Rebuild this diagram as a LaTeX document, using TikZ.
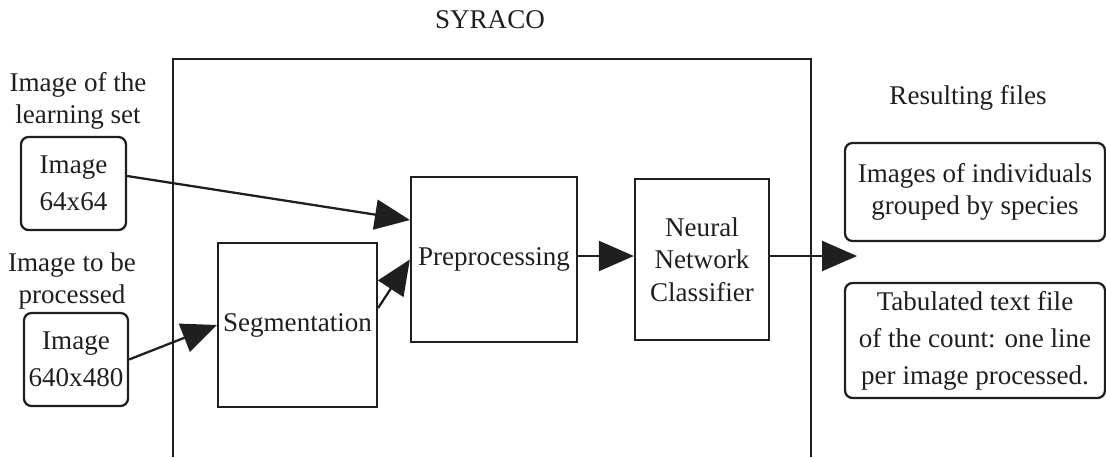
\documentclass[tikz,border=0pt]{standalone}
\usepackage{fontspec}
\setmainfont{Liberation Serif}
\usetikzlibrary{arrows.meta}
\begin{document}
\begin{tikzpicture}[x=0.02cm,y=-0.02cm,
  every node/.style={font=\fontsize{15.4}{18.5}\selectfont, text=black!88},
  box/.style={draw=black!88, line width=1.3pt, align=center, inner sep=0pt},
  rbox/.style={box, rounded corners=0.15cm},
  wide/.style={font=\fontsize{15.4}{21}\selectfont},
  arr/.style={draw=black!88, line width=1.3pt, -{Triangle[length=0.7cm,width=0.6cm]}},
  lbl/.style={align=center}]
\useasboundingbox (0,0) rectangle (1106,457);
% SYRACO frame
\draw[draw=black!88, line width=1.3pt] (173,457) -- (173,59) -- (811,59) -- (811,457);
\node[lbl] (syraco) at (490,20) {SYRACO};
\node[lbl] (lblearn) at (78,101) {Image of the\\learning set};
\node[lbl] (lbproc) at (72,281) {Image to be\\processed};
\node[lbl] (lbres) at (968,98) {Resulting files};
% boxes
\node[rbox, wide, minimum width=2.1cm, minimum height=1.86cm] (img64) at (73.5,183.5) {Image\\64x64};
\node[rbox, wide, minimum width=2.08cm, minimum height=1.86cm] (img640) at (76,359.5) {Image\\640x480};
\node[box, minimum width=3.18cm, minimum height=3.28cm] (seg) at (297.5,325) {Segmentation};
\node[box, minimum width=3.32cm, minimum height=3.3cm] (pre) at (494,259.5) {Preprocessing};
\node[box, minimum width=2.68cm, minimum height=3.22cm] (nn) at (702,259.5) {Neural\\Network\\Classifier};
\node[rbox, minimum width=5.2cm, minimum height=1.96cm] (res1) at (975,192) {Images of individuals\\grouped by species};
\node[rbox, wide, minimum width=5.2cm, minimum height=2.3cm] (res2) at (975,340.5) {Tabulated text file\\of the count: one line\\per image processed.};
\coordinate (out) at (857,256);
% connectors
\draw[arr] ([yshift=0.15cm]img64.east) -- ([yshift=0.79cm]pre.west);
\draw[arr] (img640.east) -- (seg.west);
\draw[arr] ([yshift=0.34cm]seg.east) -- (pre.west);
\draw[arr] ([yshift=0.07cm]pre.east) -- ([yshift=0.07cm]nn.west);
\draw[arr] (nn.east |- out) -- (out);
\end{tikzpicture}
\end{document}
